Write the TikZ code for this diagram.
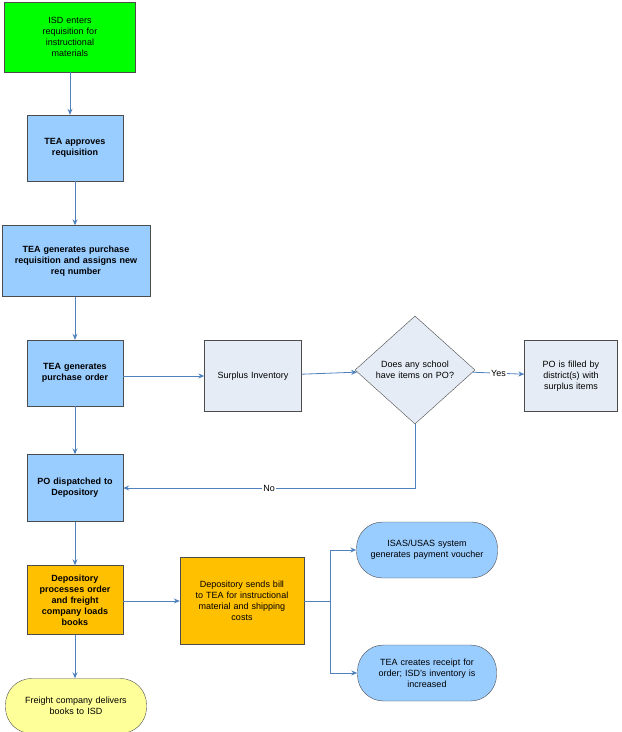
\documentclass[tikz,border=0pt]{standalone}
\usepackage{fontspec}
\setmainfont{Liberation Sans}
\usetikzlibrary{shapes.geometric,arrows.meta}
\definecolor{lb}{HTML}{99CCFF}
\definecolor{gb}{HTML}{E6ECF5}
\definecolor{ar}{HTML}{4F81BD}
\begin{document}
\begin{tikzpicture}[x=1pt,y=-1pt,
 every node/.style={font=\fontsize{9}{11}\selectfont,align=center,draw=black!70,inner sep=2pt},
 box/.style={fill=lb,minimum width=#1,text width=#1-8pt},
 arr/.style={draw=ar,-{Stealth[length=6pt,width=5pt]},line width=0.8pt},
 lab/.style={draw=none,fill=white,inner sep=1pt}]
\useasboundingbox (0,0) rectangle (622,732);
\node[box=131pt,fill=green,minimum height=70pt] (a) at (70,37) {ISD enters\\requisition for\\instructional\\materials};
\node[box=96pt,minimum height=66pt,font=\bfseries\fontsize{9}{11}\selectfont] (b) at (75,148) {TEA approves\\requisition};
\node[box=148pt,minimum height=71pt,font=\bfseries\fontsize{9}{11}\selectfont] (c) at (76,261) {TEA generates purchase\\requisition and assigns new\\req number};
\node[box=96pt,minimum height=66pt,font=\bfseries\fontsize{9}{11}\selectfont] (d) at (75,373) {TEA generates\\purchase order};
\node[box=97pt,fill=gb,minimum height=71pt] (e) at (253,376) {Surplus Inventory};
\node[diamond,fill=gb,minimum width=120pt,minimum height=108pt,aspect=1.1,inner sep=0pt,text width=80pt] (f) at (415,370) {Does any school\\have items on PO?};
\node[box=93pt,fill=gb,minimum height=71pt] (g) at (571,376) {PO is filled by\\district(s) with\\surplus items};
\node[box=96pt,minimum height=67pt,font=\bfseries\fontsize{9}{11}\selectfont] (h) at (75,488) {PO dispatched to\\Depository};
\node[box=96pt,fill={rgb,255:red,255;green,192;blue,0},minimum height=69pt,font=\bfseries\fontsize{9}{11}\selectfont] (i) at (75,600) {Depository\\processes order\\and freight\\company loads\\books};
\node[box=124pt,fill={rgb,255:red,255;green,192;blue,0},minimum height=87pt] (j) at (242,601) {Depository sends bill\\to TEA for instructional\\material and shipping\\costs};
\node[box=141pt,rounded corners=26pt,minimum height=56pt] (k) at (427,550) {ISAS/USAS system\\generates payment voucher};
\node[box=139pt,rounded corners=26pt,minimum height=56pt] (l) at (427,673) {TEA creates receipt for\\order; ISD's inventory is\\increased};
\node[box=141pt,fill={rgb,255:red,255;green,255;blue,153},rounded corners=26pt,minimum height=55pt] (m) at (76,706) {Freight company delivers\\books to ISD};
\draw[arr] (a) -- (a|-b.north);
\draw[arr] (b) -- (b|-c.north);
\draw[arr] (c.south-|b) -- (d);
\draw[arr] (d) -- (h);
\draw[arr] (h) -- (i);
\draw[arr] (i) -- (i|-m.north);
\draw[arr] (d.east|-e) -- (e);
\draw[arr] (e) -- (f);
\draw[arr] (f) -- node[lab]{Yes} (g);
\draw[arr] (f.south) |- node[lab,pos=0.75]{No} (h);
\draw[arr] (i.east|-j) -- (j);
\coordinate (s) at (330,601);
\draw[arr] (j) -- (s) |- (k);
\draw[arr] (s) |- (l);
\end{tikzpicture}
\end{document}
